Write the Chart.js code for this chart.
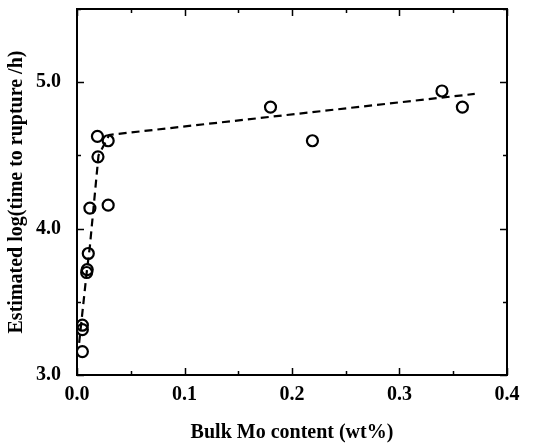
<!DOCTYPE html>
<html>
<head>
<meta charset="utf-8">
<script src="https://cdn.jsdelivr.net/npm/chart.js@4.4.0/dist/chart.umd.min.js"></script>
<style>
  html, body { margin: 0; padding: 0; background: #fff; }
  #wrap { width: 538px; height: 445px; }
</style>
</head>
<body>
<div id="wrap"><canvas id="moChart" width="538" height="445"></canvas></div>
<script>
// measured points
const moContent = [0.005, 0.005, 0.005, 0.009, 0.0095, 0.0105, 0.012, 0.019, 0.0195, 0.029, 0.029, 0.18, 0.219, 0.3395, 0.3585];
const logLife   = [3.16, 3.31, 3.34, 3.70, 3.72, 3.83, 4.14, 4.63, 4.49, 4.60, 4.16, 4.83, 4.60, 4.94, 4.83];

// dashed guide line
const fitMo  = [0.002, 0.009, 0.012, 0.02, 0.03, 0.37];
const fitLog = [3.22, 3.70, 3.88, 4.50, 4.64, 4.92];

const xTickLabels = ['0.0', '0.1', '0.2', '0.3', '0.4'];
const yTickLabels = ['3.0', '4.0', '5.0'];

const serif = "'Liberation Serif', 'DejaVu Serif', serif";

// inward ticks on all four sides + frame
const frameTicks = {
    id: 'frameTicks',
    afterDraw(chart) {
        const ctx = chart.ctx;
        const a = chart.chartArea;
        const xs = chart.scales.x, ys = chart.scales.y;
        ctx.save();
        ctx.strokeStyle = '#000';
        ctx.lineWidth = 1.5;
        xs.ticks.forEach(t => {
            const px = Math.round(xs.getPixelForValue(t.value)) + 0.5;
            const major = Math.abs(t.value * 10 - Math.round(t.value * 10)) < 1e-6;
            const len = major ? 7 : 4;
            ctx.beginPath();
            ctx.moveTo(px, a.bottom); ctx.lineTo(px, a.bottom - len);
            ctx.moveTo(px, a.top); ctx.lineTo(px, a.top + len);
            ctx.stroke();
        });
        ys.ticks.forEach(t => {
            const py = Math.round(ys.getPixelForValue(t.value)) + 0.5;
            const major = Math.abs(t.value - Math.round(t.value)) < 1e-6;
            const len = major ? 7 : 4;
            ctx.beginPath();
            ctx.moveTo(a.left, py); ctx.lineTo(a.left + len, py);
            ctx.moveTo(a.right, py); ctx.lineTo(a.right - len, py);
            ctx.stroke();
        });
        ctx.lineWidth = 2;
        ctx.strokeRect(a.left, a.top, a.right - a.left, a.bottom - a.top);
        ctx.restore();
    }
};

new Chart(document.getElementById('moChart').getContext('2d'), {
    type: 'scatter',
    data: {
        datasets: [
            {
                label: 'fit',
                data: fitMo.map((x, i) => ({ x: x, y: fitLog[i] })),
                showLine: true,
                borderColor: '#000',
                borderWidth: 2.2,
                borderDash: [8, 5],
                pointRadius: 0,
                fill: false
            },
            {
                label: 'measured',
                data: moContent.map((x, i) => ({ x: x, y: logLife[i] })),
                pointStyle: 'circle',
                pointRadius: 5.5,
                pointBorderWidth: 2.2,
                pointBorderColor: '#000',
                pointBackgroundColor: 'rgba(255,255,255,0)'
            }
        ]
    },
    options: {
        responsive: false,
        animation: false,
        layout: { padding: { top: 9, right: 31, left: 0, bottom: 0 } },
        plugins: { legend: { display: false }, tooltip: { enabled: false } },
        scales: {
            x: {
                type: 'linear',
                min: 0, max: 0.4,
                grid: { display: false },
                border: { display: false },
                ticks: {
                    stepSize: 0.05,
                    autoSkip: false,
                    maxRotation: 0,
                    padding: 0,
                    color: '#000',
                    font: { family: serif, size: 20, weight: 'bold' },
                    callback: v => {
                        const s = v.toFixed(1);
                        return Math.abs(v * 10 - Math.round(v * 10)) < 1e-6 && xTickLabels.includes(s) ? s : '';
                    }
                },
                title: {
                    display: true,
                    text: 'Bulk Mo content (wt%)',
                    color: '#000',
                    font: { family: serif, size: 20, weight: 'bold' },
                    padding: { top: 10, bottom: 0 }
                },
                afterFit: s => { s.height = 70; s.paddingLeft = 0; s.paddingRight = 0; }
            },
            y: {
                type: 'linear',
                min: 3.0, max: 5.5,
                grid: { display: false },
                border: { display: false },
                ticks: {
                    stepSize: 0.5,
                    autoSkip: false,
                    padding: 8,
                    color: '#000',
                    font: { family: serif, size: 20, weight: 'bold' },
                    callback: v => {
                        const s = v.toFixed(1);
                        return Math.abs(v - Math.round(v)) < 1e-6 && yTickLabels.includes(s) ? s : '';
                    }
                },
                title: {
                    display: true,
                    text: 'Estimated log(time to rupture /h)',
                    color: '#000',
                    font: { family: serif, size: 20, weight: 'bold' },
                    padding: { top: 5, bottom: 4 }
                },
                afterFit: s => { s.width = 77; s.paddingTop = 0; s.paddingBottom = 0; }
            }
        }
    },
    plugins: [frameTicks]
});
</script>
</body>
</html>
